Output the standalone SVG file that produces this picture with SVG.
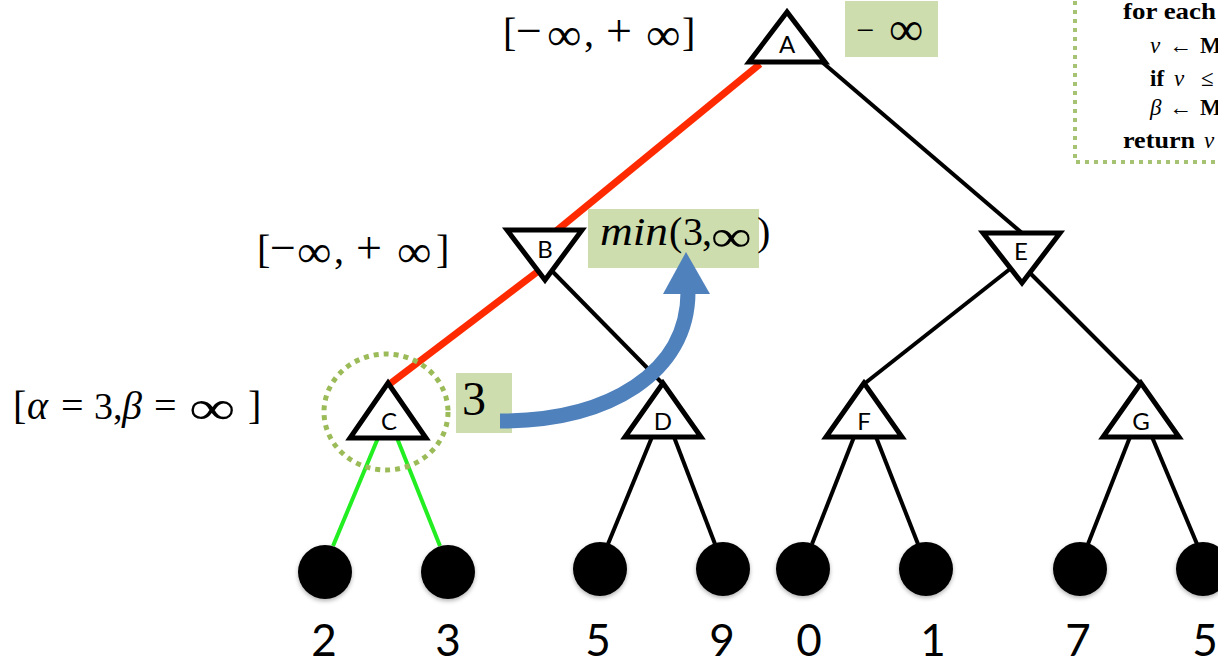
<svg xmlns="http://www.w3.org/2000/svg" width="1218" height="663" viewBox="0 0 1218 663">
<style>
.math{font-family:"Liberation Serif","Times New Roman",serif;fill:#000}
.lbl{font-family:Lato,"Open Sans",sans-serif;font-size:24px;fill:#000;text-anchor:middle}
.num{font-family:Lato,"Open Sans",sans-serif;font-size:44px;fill:#000;text-anchor:middle}
.tri{fill:#fff;stroke:#000;stroke-width:5;stroke-linejoin:miter}
.leaf{fill:#000;filter:url(#sh)}
.blk{stroke:#000;stroke-width:4;fill:none}
.red{stroke:#FF2A00;stroke-width:7;fill:none}
.grn{stroke:#22EE22;stroke-width:4;fill:none}
.box{fill:#CEDDAE}
.alg{font-family:"Liberation Serif","Times New Roman",serif;font-size:23px;fill:#000}
</style>
<defs>
<filter id="sh" x="-30%" y="-30%" width="160%" height="170%">
<feDropShadow dx="0" dy="2" stdDeviation="2" flood-color="#000" flood-opacity="0.3"/>
</filter>
</defs>
<rect width="1218" height="663" fill="#fff"/>

<!-- algorithm box -->
<g id="algo">
<rect x="1075" y="-10" width="200" height="172" fill="none" stroke="#A6C273" stroke-width="4" stroke-dasharray="4 5"/>
<text class="alg" x="1123" y="19" font-weight="bold" textLength="93" lengthAdjust="spacingAndGlyphs">for each</text>
<text class="alg" y="53"><tspan x="1150" font-style="italic">v</tspan><tspan x="1169">←</tspan><tspan x="1200" font-weight="bold">M</tspan></text>
<text class="alg" y="86"><tspan x="1150" font-weight="bold">if</tspan><tspan x="1174" font-style="italic">v</tspan><tspan x="1201">≤</tspan></text>
<text class="alg" y="115"><tspan x="1150" font-style="italic">β</tspan><tspan x="1169">←</tspan><tspan x="1200" font-weight="bold">M</tspan></text>
<text class="alg" x="1123" y="148" font-weight="bold" textLength="72" lengthAdjust="spacingAndGlyphs">return</text>
<text class="alg" x="1204" y="148" font-style="italic">v</text>
</g>

<!-- connectors -->
<g id="connectors">
<line class="red" x1="760" y1="64" x2="550" y2="236"/>
<line class="red" x1="545" y1="266" x2="387" y2="386"/>
<line class="blk" x1="822" y1="62" x2="1022" y2="233"/>
<line class="blk" x1="553" y1="272" x2="663" y2="384"/>
<line class="blk" x1="1015" y1="265" x2="864" y2="384"/>
<line class="blk" x1="1025" y1="268" x2="1141" y2="384"/>
<line class="grn" x1="378" y1="438" x2="333" y2="546"/>
<line class="grn" x1="397" y1="438" x2="440" y2="546"/>
<line class="blk" x1="652" y1="437" x2="608" y2="544"/>
<line class="blk" x1="674" y1="437" x2="715" y2="544"/>
<line class="blk" x1="854" y1="437" x2="812" y2="544"/>
<line class="blk" x1="876" y1="437" x2="918" y2="544"/>
<line class="blk" x1="1130" y1="437" x2="1088" y2="544"/>
<line class="blk" x1="1152" y1="437" x2="1197" y2="544"/>
</g>

<!-- inner nodes -->
<g id="node-A">
<polygon class="tri" points="787,12 749,62 825,62"/>
<text class="lbl" x="787" y="53">A</text>
</g>
<g id="node-B">
<polygon class="tri" points="507,230 582,230 545,280"/>
<text class="lbl" x="545" y="258">B</text>
</g>
<g id="node-E">
<polygon class="tri" points="983,233 1060,233 1022,283"/>
<text class="lbl" x="1021" y="260">E</text>
</g>
<g id="node-C">
<polygon class="tri" points="388,383 350,438 426,438"/>
<text class="lbl" x="389" y="430">C</text>
</g>
<g id="node-D">
<polygon class="tri" points="663,383 625,437 701,437"/>
<text class="lbl" x="663" y="430">D</text>
</g>
<g id="node-F">
<polygon class="tri" points="864,383 826,437 902,437"/>
<text class="lbl" x="864" y="430">F</text>
</g>
<g id="node-G">
<polygon class="tri" points="1141,383 1103,437 1179,437"/>
<text class="lbl" x="1141" y="430">G</text>
</g>

<!-- leaves -->
<g id="leaf-1"><circle class="leaf" cx="325" cy="572" r="27"/><text class="num" x="324" y="656">2</text></g>
<g id="leaf-2"><circle class="leaf" cx="448" cy="572" r="27"/><text class="num" x="448" y="656">3</text></g>
<g id="leaf-3"><circle class="leaf" cx="600" cy="569" r="27"/><text class="num" x="598" y="656">5</text></g>
<g id="leaf-4"><circle class="leaf" cx="723" cy="569" r="27"/><text class="num" x="722" y="656">9</text></g>
<g id="leaf-5"><circle class="leaf" cx="803" cy="569" r="27"/><text class="num" x="809" y="656">0</text></g>
<g id="leaf-6"><circle class="leaf" cx="926" cy="569" r="27"/><text class="num" x="933" y="656">1</text></g>
<g id="leaf-7"><circle class="leaf" cx="1080" cy="569" r="27"/><text class="num" x="1078" y="656">7</text></g>
<g id="leaf-8"><circle class="leaf" cx="1203" cy="569" r="27"/><text class="num" x="1205" y="656">5</text></g>

<!-- highlight circle -->
<ellipse id="highlight" cx="386" cy="412" rx="62" ry="58" fill="none" stroke="#9BBB59" stroke-width="5" stroke-dasharray="5 5"/>

<!-- labels -->
<g id="label-A">
<text class="math" y="46" font-size="40"><tspan x="503">[</tspan><tspan x="516" font-size="46">−</tspan><tspan x="584">,</tspan><tspan x="606" font-size="46">+</tspan><tspan x="682">]</tspan></text>
<text class="math" font-size="46" transform="translate(547,50) scale(1.05,1)">∞</text>
<text class="math" font-size="46" transform="translate(646,50) scale(1.05,1)">∞</text>
</g>
<g id="label-B">
<text class="math" y="263" font-size="40"><tspan x="257">[</tspan><tspan x="270" font-size="46">−</tspan><tspan x="334">,</tspan><tspan x="356" font-size="46">+</tspan><tspan x="436">]</tspan></text>
<text class="math" font-size="46" transform="translate(297,267) scale(1.05,1)">∞</text>
<text class="math" font-size="46" transform="translate(397,267) scale(1.05,1)">∞</text>
</g>
<g id="label-C">
<text class="math" y="419" font-size="40"><tspan x="27" font-style="italic">α</tspan><tspan x="61">=</tspan><tspan x="94" font-size="38">3</tspan><tspan x="113" font-size="38">,</tspan><tspan x="122" font-style="italic">β</tspan><tspan x="154">=</tspan><tspan x="248">]</tspan></text>
<text class="math" x="13" y="419" font-size="40">[</text>
<text class="math" font-size="48" transform="translate(189,424) scale(1.35,1)">∞</text>
</g>
<g id="value-A">
<rect class="box" x="845" y="1" width="93" height="56"/>
<text class="math" x="856" y="41" font-size="32">−</text>
<text class="math" font-size="48" transform="translate(889,45)">∞</text>
</g>
<g id="value-B">
<rect class="box" x="588" y="209" width="171" height="59"/>
<text class="math" x="600" y="245" font-size="40" font-style="italic" textLength="68" lengthAdjust="spacingAndGlyphs">min</text>
<text class="math" y="245" font-size="40"><tspan x="669">(</tspan><tspan x="683">3</tspan><tspan x="702">,</tspan><tspan x="757">)</tspan></text>
<text class="math" font-size="44" transform="translate(711,251) scale(1.3,1)">∞</text>
</g>
<g id="value-C">
<rect class="box" x="456" y="373" width="56" height="60"/>
<text class="math" x="474" y="415" font-size="48" text-anchor="middle">3</text>
</g>

<!-- blue arrow -->
<g id="arrow">
<path d="M 500 421 C 610 421 688 372 688 292" fill="none" stroke="#4F81BD" stroke-width="15"/>
<polygon points="663,294 710,294 686,252" fill="#4F81BD"/>
</g>
</svg>
